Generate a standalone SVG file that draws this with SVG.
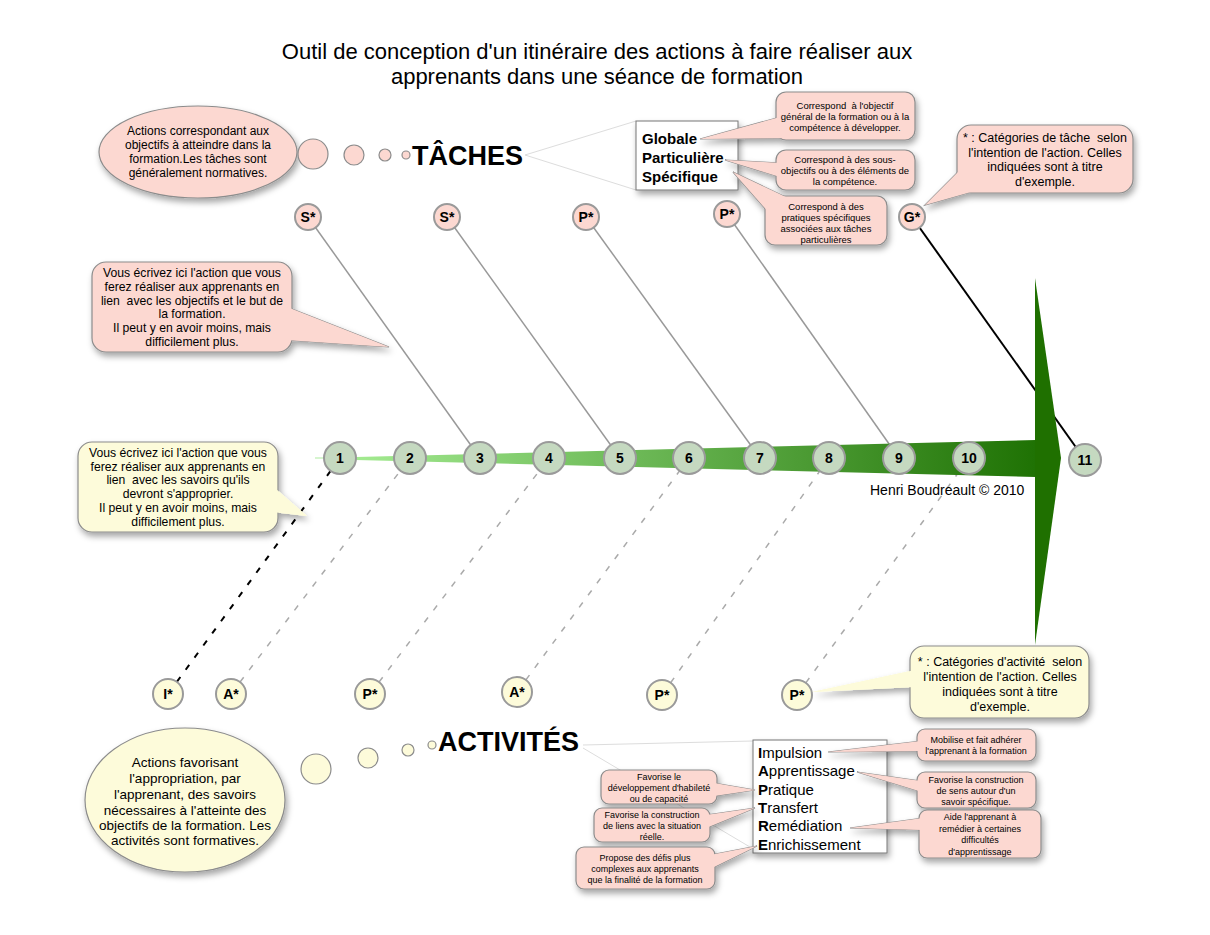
<svg xmlns="http://www.w3.org/2000/svg" width="1210" height="935" viewBox="0 0 1210 935">
<defs>
<style>
text{font-family:"Liberation Sans",Arial,sans-serif;fill:#000}
.t{text-anchor:middle}
.pk{fill:#fcd8d1;stroke:#8c8c8c;stroke-width:1.2}
.pkc{fill:#fcd8d1;stroke:none}
.yl{fill:#fdfbda;stroke:#8c8c8c;stroke-width:1.2}
.ylc{fill:#fdfbda;stroke:none}
.nd{fill:#c5d9c0;stroke:#9a9a9a;stroke-width:2}
.tp{fill:#fcd8d1;stroke:#9a9a9a;stroke-width:2}
.bt{fill:#fdfbda;stroke:#9a9a9a;stroke-width:2}
.lab{font-size:14px;font-weight:bold;text-anchor:middle}
.s9{font-size:9px;text-anchor:middle}
.s95{font-size:9.5px;text-anchor:middle}
.s11{font-size:12px;text-anchor:middle}
.s125{font-size:12.5px;text-anchor:middle}
.s12{font-size:12.2px;text-anchor:middle}
.s13{font-size:13.5px;text-anchor:middle}
.gl{stroke:#999;stroke-width:1.5;fill:none}
.dl{stroke:#aaa;stroke-width:1.5;stroke-dasharray:6 9;fill:none}
.thin{stroke:#ddd;stroke-width:1;fill:none}
.big{font-size:27px;font-weight:bold}
.bx{fill:#fff;stroke:#777;stroke-width:1}
.it{font-size:15px}
</style>
<filter id="sh" x="-20%" y="-20%" width="150%" height="160%"><feDropShadow dx="2" dy="4" stdDeviation="3" flood-color="#000" flood-opacity="0.35"/></filter>
<linearGradient id="gr" x1="330" y1="0" x2="1035" y2="0" gradientUnits="userSpaceOnUse"><stop offset="0" stop-color="#a8ef96"/><stop offset="1" stop-color="#1f7204"/></linearGradient>
</defs>
<rect width="1210" height="935" fill="#fff"/>

<g id="title">
<text class="t" x="597" y="59" font-size="22">Outil de conception d'un itinéraire des actions à faire réaliser aux</text>
<text class="t" x="597" y="84" font-size="22">apprenants dans une séance de formation</text>
</g>

<g id="connectors">
<line class="thin" x1="525" y1="155" x2="636" y2="121"/>
<line class="thin" x1="525" y1="155" x2="636" y2="190"/>
<line class="thin" x1="583" y1="745" x2="753" y2="741"/>
<line class="thin" x1="583" y1="748" x2="755" y2="850"/>
<line class="gl" x1="308" y1="217" x2="480" y2="458"/>
<line class="gl" x1="447" y1="217" x2="620" y2="458"/>
<line class="gl" x1="586" y1="217" x2="760" y2="458"/>
<line class="gl" x1="727" y1="214" x2="899" y2="458"/>
<line stroke="#000" stroke-width="2" x1="912" y1="217" x2="1085" y2="460"/>
<line stroke="#000" stroke-width="2" stroke-dasharray="6 9" x1="168" y1="694" x2="340" y2="458"/>
<line class="dl" x1="231" y1="694" x2="410" y2="458"/>
<line class="dl" x1="370" y1="694" x2="549" y2="458"/>
<line class="dl" x1="517" y1="692" x2="689" y2="458"/>
<line class="dl" x1="662" y1="695" x2="829" y2="458"/>
<line class="dl" x1="797" y1="695" x2="969" y2="458"/>
</g>

<g id="arrow">
<line x1="315" y1="458" x2="345" y2="458" stroke="#c9f2bf" stroke-width="1.5"/>
<polygon points="335,457.5 1036,440 1036,477 335,459.5" fill="url(#gr)"/>
<polygon points="1035,278 1061,458 1035,645" fill="#1f7000"/>
</g>

<g id="taches-bubble">
<g filter="url(#sh)">
<ellipse class="pk" cx="198" cy="152" rx="99" ry="46"/>
</g>
<text class="s11" x="198" y="135">Actions correspondant aux</text>
<text class="s11" x="198" y="149">objectifs à atteindre dans la</text>
<text class="s11" x="198" y="163">formation.Les tâches sont</text>
<text class="s11" x="198" y="177">généralement normatives.</text>
<circle class="pk" cx="313" cy="154" r="15"/>
<circle class="pk" cx="354" cy="155" r="10"/>
<circle class="pk" cx="385" cy="155" r="6"/>
<circle class="pk" cx="406" cy="155" r="4"/>
</g>

<g id="taches-title"><text class="big" x="412" y="165">TÂCHES</text></g>

<g id="taches-box">
<g filter="url(#sh)"><rect class="bx" x="636" y="121" width="102" height="69"/></g>
<text x="642" y="144" font-size="15" font-weight="bold">Globale</text>
<text x="642" y="163" font-size="15" font-weight="bold">Particulière</text>
<text x="642" y="182" font-size="15" font-weight="bold">Spécifique</text>
</g>

<g id="callout-globale">
<g filter="url(#sh)">
<path class="pk" d="M780,117 L700,139 L792,138 Z"/>
<rect class="pk" x="776" y="92" width="139" height="48" rx="10"/>
<path class="pkc" d="M780,117 L700,139 L792,138 Z"/>
</g>
<text class="s95" x="845" y="109" xml:space="preserve">Correspond  à l'objectif</text>
<text class="s95" x="845" y="120">général de la formation ou à la</text>
<text class="s95" x="845" y="131">compétence à développer.</text>
</g>

<g id="callout-particuliere">
<g filter="url(#sh)">
<path class="pk" d="M780,163 L725,160 L780,177 Z"/>
<rect class="pk" x="776" y="150" width="139" height="40" rx="10"/>
<path class="pkc" d="M780,163 L725,160 L780,177 Z"/>
</g>
<text class="s95" x="845" y="163">Correspond à des sous-</text>
<text class="s95" x="845" y="174">objectifs ou à des éléments de</text>
<text class="s95" x="845" y="185">la compétence.</text>
</g>

<g id="callout-specifique">
<g filter="url(#sh)">
<path class="pk" d="M770,214 L733,172 L790,199 Z"/>
<rect class="pk" x="765" y="196" width="122" height="49" rx="10"/>
<path class="pkc" d="M770,214 L733,172 L790,199 Z"/>
</g>
<text class="s95" x="826" y="210">Correspond à des</text>
<text class="s95" x="826" y="221">pratiques spécifiques</text>
<text class="s95" x="826" y="232">associées aux tâches</text>
<text class="s95" x="826" y="243">particulières</text>
</g>

<g id="callout-gstar">
<g filter="url(#sh)">
<path class="pk" d="M962,168 L925,205 L978,190 Z"/>
<rect class="pk" x="957" y="125" width="176" height="68" rx="14"/>
<path class="pkc" d="M962,168 L925,205 L978,190 Z"/>
</g>
<text class="s125" x="1045" y="142" xml:space="preserve">* : Catégories de tâche  selon</text>
<text class="s125" x="1045" y="157">l'intention de l'action. Celles</text>
<text class="s125" x="1045" y="171">indiquées sont à titre</text>
<text class="s125" x="1045" y="186">d'exemple.</text>
</g>

<g id="callout-taches-left">
<g filter="url(#sh)">
<path class="pk" d="M282,305 L389,347 L286,340 Z"/>
<rect class="pk" x="92" y="262" width="200" height="90" rx="14"/>
<path class="pkc" d="M282,305 L389,347 L286,340 Z"/>
</g>
<text class="s12" x="192" y="277">Vous écrivez ici l'action que vous</text>
<text class="s12" x="192" y="291">ferez réaliser aux apprenants en</text>
<text class="s12" x="192" y="305" xml:space="preserve">lien  avec les objectifs et le but de</text>
<text class="s12" x="192" y="318">la formation.</text>
<text class="s12" x="192" y="332">Il peut y en avoir moins, mais</text>
<text class="s12" x="192" y="346">difficilement plus.</text>
</g>

<g id="callout-activites-left">
<g filter="url(#sh)">
<path class="ylc" d="M268,482 L307,516 L272,512 Z" stroke="#8c8c8c" stroke-width="1.2"/>
<rect class="yl" x="78" y="442" width="200" height="90" rx="14"/>
<path class="ylc" d="M268,482 L307,516 L272,512 Z"/>
</g>
<text class="s12" x="178" y="457">Vous écrivez ici l'action que vous</text>
<text class="s12" x="178" y="471">ferez réaliser aux apprenants en</text>
<text class="s12" x="178" y="484" xml:space="preserve">lien  avec les savoirs qu'ils</text>
<text class="s12" x="178" y="498">devront s'approprier.</text>
<text class="s12" x="178" y="512">Il peut y en avoir moins, mais</text>
<text class="s12" x="178" y="526">difficilement plus.</text>
</g>

<g id="top-nodes">
<g id="tS1"><circle class="tp" cx="308" cy="217" r="13"/><text class="lab" x="308" y="222">S*</text></g>
<g id="tS2"><circle class="tp" cx="447" cy="217" r="13"/><text class="lab" x="447" y="222">S*</text></g>
<g id="tP1"><circle class="tp" cx="586" cy="217" r="13"/><text class="lab" x="586" y="222">P*</text></g>
<g id="tP2"><circle class="tp" cx="727" cy="214" r="13"/><text class="lab" x="727" y="219">P*</text></g>
<g id="tG"><circle class="tp" cx="912" cy="217" r="13"/><text class="lab" x="912" y="222">G*</text></g>
</g>

<g id="main-nodes">
<g id="n1"><circle class="nd" cx="340" cy="458" r="16"/><text class="lab" x="340" y="463">1</text></g>
<g id="n2"><circle class="nd" cx="410" cy="458" r="16"/><text class="lab" x="410" y="463">2</text></g>
<g id="n3"><circle class="nd" cx="480" cy="458" r="16"/><text class="lab" x="480" y="463">3</text></g>
<g id="n4"><circle class="nd" cx="549" cy="458" r="16"/><text class="lab" x="549" y="463">4</text></g>
<g id="n5"><circle class="nd" cx="620" cy="458" r="16"/><text class="lab" x="620" y="463">5</text></g>
<g id="n6"><circle class="nd" cx="689" cy="458" r="16"/><text class="lab" x="689" y="463">6</text></g>
<g id="n7"><circle class="nd" cx="760" cy="458" r="16"/><text class="lab" x="760" y="463">7</text></g>
<g id="n8"><circle class="nd" cx="829" cy="458" r="16"/><text class="lab" x="829" y="463">8</text></g>
<g id="n9"><circle class="nd" cx="899" cy="458" r="16"/><text class="lab" x="899" y="463">9</text></g>
<g id="n10"><circle class="nd" cx="969" cy="458" r="16"/><text class="lab" x="969" y="463">10</text></g>
<g id="n11"><circle class="nd" cx="1085" cy="460" r="16"/><text class="lab" x="1085" y="465">11</text></g>
</g>

<g id="credit"><text x="870" y="495" font-size="14">Henri Boudreault © 2010</text></g>

<g id="bottom-nodes">
<g id="bI"><circle class="bt" cx="168" cy="694" r="15"/><text class="lab" x="168" y="699">I*</text></g>
<g id="bA1"><circle class="bt" cx="231" cy="694" r="15"/><text class="lab" x="231" y="699">A*</text></g>
<g id="bP1"><circle class="bt" cx="370" cy="694" r="15"/><text class="lab" x="370" y="699">P*</text></g>
<g id="bA2"><circle class="bt" cx="517" cy="692" r="15"/><text class="lab" x="517" y="697">A*</text></g>
<g id="bP2"><circle class="bt" cx="662" cy="695" r="15"/><text class="lab" x="662" y="700">P*</text></g>
<g id="bP3"><circle class="bt" cx="797" cy="695" r="15"/><text class="lab" x="797" y="700">P*</text></g>
</g>

<g id="callout-astar">
<g filter="url(#sh)">
<path class="ylc" d="M915,670 L812,692 L915,687 Z" stroke="#8c8c8c" stroke-width="1.2"/>
<rect class="yl" x="910" y="646" width="179" height="72" rx="14"/>
<path class="ylc" d="M915,670 L812,692 L915,687 Z"/>
</g>
<text class="s125" x="1000" y="666" xml:space="preserve">* : Catégories d'activité  selon</text>
<text class="s125" x="1000" y="681">l'intention de l'action. Celles</text>
<text class="s125" x="1000" y="696">indiquées sont à titre</text>
<text class="s125" x="1000" y="711">d'exemple.</text>
</g>

<g id="activites-bubble">
<g filter="url(#sh)">
<ellipse class="yl" cx="185" cy="800" rx="100" ry="72"/>
</g>
<text class="s13" x="185" y="767">Actions favorisant</text>
<text class="s13" x="185" y="783">l'appropriation, par</text>
<text class="s13" x="185" y="799">l'apprenant, des savoirs</text>
<text class="s13" x="185" y="815">nécessaires à l'atteinte des</text>
<text class="s13" x="185" y="830">objectifs de la formation. Les</text>
<text class="s13" x="185" y="845">activités sont formatives.</text>
<circle class="yl" cx="316" cy="769" r="15"/>
<circle class="yl" cx="368" cy="758" r="10"/>
<circle class="yl" cx="408" cy="750" r="6"/>
<circle class="yl" cx="432" cy="745" r="4"/>
</g>

<g id="activites-title"><text class="big" font-size="28" x="438" y="751">ACTIVITÉS</text></g>

<g id="activites-box">
<g filter="url(#sh)"><rect class="bx" x="753" y="740" width="134" height="113"/></g>
<text class="it" x="758" y="758"><tspan font-weight="bold">I</tspan>mpulsion</text>
<text class="it" x="758" y="776"><tspan font-weight="bold">A</tspan>pprentissage</text>
<text class="it" x="758" y="795"><tspan font-weight="bold">P</tspan>ratique</text>
<text class="it" x="758" y="813"><tspan font-weight="bold">T</tspan>ransfert</text>
<text class="it" x="758" y="831"><tspan font-weight="bold">R</tspan>emédiation</text>
<text class="it" x="758" y="850"><tspan font-weight="bold">E</tspan>nrichissement</text>
</g>

<g id="callout-pratique">
<g filter="url(#sh)">
<path class="pk" d="M714,783 L755,790 L714,796 Z"/>
<rect class="pk" x="601" y="770" width="116" height="34" rx="8"/>
<path class="pkc" d="M714,783 L755,790 L714,796 Z"/>
</g>
<text class="s9" x="659" y="780">Favorise le</text>
<text class="s9" x="659" y="791">développement d'habileté</text>
<text class="s9" x="659" y="802">ou de capacité</text>
</g>

<g id="callout-transfert">
<g filter="url(#sh)">
<path class="pk" d="M706,815 L755,808 L706,828 Z"/>
<rect class="pk" x="594" y="808" width="116" height="34" rx="8"/>
<path class="pkc" d="M706,815 L755,808 L706,828 Z"/>
</g>
<text class="s9" x="652" y="818">Favorise la construction</text>
<text class="s9" x="652" y="829">de liens avec la situation</text>
<text class="s9" x="652" y="840">réelle.</text>
</g>

<g id="callout-enrichissement">
<g filter="url(#sh)">
<path class="pk" d="M710,855 L757,846 L712,868 Z"/>
<rect class="pk" x="576" y="847" width="139" height="42" rx="8"/>
<path class="pkc" d="M710,855 L757,846 L712,868 Z"/>
</g>
<text class="s9" x="645" y="861">Propose des défis plus</text>
<text class="s9" x="645" y="872">complexes aux apprenants</text>
<text class="s9" x="645" y="883">que la finalité de la formation</text>
</g>

<g id="callout-impulsion">
<g filter="url(#sh)">
<path class="pk" d="M921,741 L828,752 L921,751 Z"/>
<rect class="pk" x="917" y="729" width="119" height="32" rx="8"/>
<path class="pkc" d="M921,741 L828,752 L921,751 Z"/>
</g>
<text class="s9" x="976" y="743">Mobilise et fait adhérer</text>
<text class="s9" x="976" y="754">l'apprenant à la formation</text>
</g>

<g id="callout-apprentissage">
<g filter="url(#sh)">
<path class="pk" d="M921,781 L857,772 L922,792 Z"/>
<rect class="pk" x="917" y="772" width="119" height="36" rx="8"/>
<path class="pkc" d="M921,781 L857,772 L922,792 Z"/>
</g>
<text class="s9" x="976" y="783">Favorise la construction</text>
<text class="s9" x="976" y="794">de sens autour d'un</text>
<text class="s9" x="976" y="805">savoir spécifique.</text>
</g>

<g id="callout-remediation">
<g filter="url(#sh)">
<path class="pk" d="M923,818 L850,828 L923,830 Z"/>
<rect class="pk" x="919" y="810" width="122" height="48" rx="8"/>
<path class="pkc" d="M923,818 L850,828 L923,830 Z"/>
</g>
<text class="s9" x="980" y="820">Aide l'apprenant à</text>
<text class="s9" x="980" y="832">remédier à certaines</text>
<text class="s9" x="980" y="843">difficultés</text>
<text class="s9" x="980" y="855">d'apprentissage</text>
</g>
</svg>
